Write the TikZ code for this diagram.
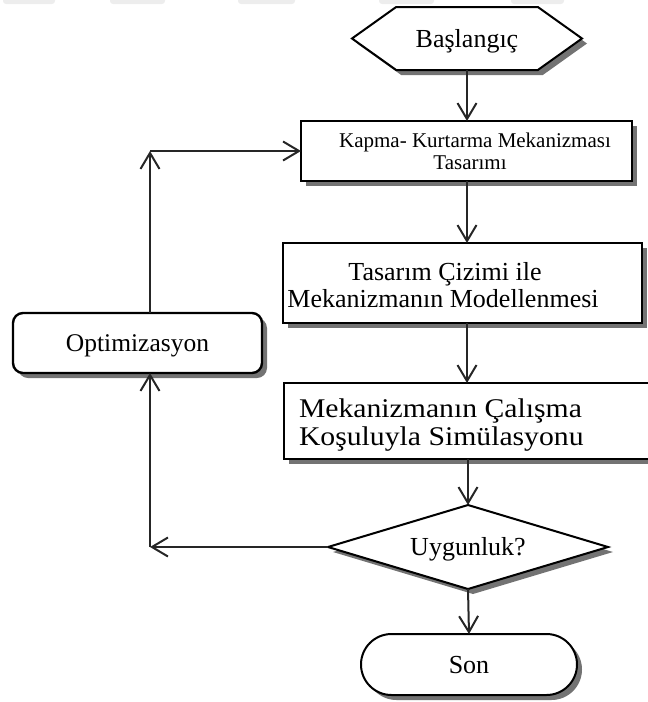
\documentclass[tikz,border=0pt]{standalone}
\usepackage{fontspec}
\usepackage{graphicx}
\setmainfont{Liberation Serif}
\usetikzlibrary{arrows.meta,shapes.geometric,shapes.misc,shapes.symbols,shadows}

\begin{document}
\begin{tikzpicture}[x=1pt,y=-1pt,
  every node/.style={inner sep=0pt,outer sep=0pt},
  boxshadow/.style={drop shadow={shadow xshift=5pt,shadow yshift=-5pt,fill=black,opacity=0.55}},
  bigtext/.style={font=\fontsize{26}{28}\selectfont},
  smalltext/.style={font=\fontsize{21}{22}\selectfont},
  simtext/.style={font=\fontsize{27}{28}\selectfont},
  oneline/.style={text height=17pt,text depth=0pt},
  procbox/.style={rectangle,draw,line width=2.4pt,fill=white,boxshadow},
  hexa/.style={signal,signal to=east and west,signal pointer angle=71,
    minimum width=230pt,minimum height=63pt,draw,line width=2pt,fill=white,
    boxshadow,bigtext,oneline},
  decision/.style={diamond,aspect=3.333,minimum width=280pt,minimum height=84pt,
    draw,line width=2pt,fill=white,boxshadow,bigtext,oneline},
  terminal/.style={rounded rectangle,minimum width=216pt,minimum height=61pt,
    draw,line width=2pt,fill=white,boxshadow,bigtext,oneline},
  optbox/.style={rectangle,rounded corners=10pt,minimum width=249pt,minimum height=60pt,
    draw,line width=2.4pt,fill=white,boxshadow,font=\fontsize{25.5}{28}\selectfont,oneline},
  flow/.style={line width=2pt,draw=black!85,
    -{Straight Barb[length=16pt,width=19pt,line width=2pt]}}
]
\useasboundingbox (0,0) rectangle (648,702);

% faint marks along the top edge
\foreach \a/\b in {3/55,110/165,238/295,379/434,511/564}
  \fill[black!7,rounded corners=3pt] (\a,-6) rectangle (\b,4);

% main column
\node[hexa] (start) at (467,38.5) {Başlangıç};

\node[procbox,minimum width=331pt,minimum height=60pt] (design) at (466.5,151) {};
\node[smalltext,anchor=base] (designA) at (475,147) {Kapma- Kurtarma Mekanizması};
\node[smalltext,anchor=base] (designB) at (470,169) {Tasarımı};

\node[procbox,minimum width=359pt,minimum height=80pt] (model) at (462.5,283) {};
\node[bigtext,anchor=base] (modelA) at (445,280) {Tasarım Çizimi ile};
\node[bigtext,anchor=base] (modelB) at (443,307) {Mekanizmanın Modellenmesi};

\node[procbox,minimum width=368pt,minimum height=76pt] (sim) at (468,421) {};
\node[simtext,anchor=base west] (simA) at (299,417) {\scalebox{1.1}[1]{Mekanizmanın Çalışma}};
\node[simtext,anchor=base west] (simB) at (299,445) {\scalebox{1.1}[1]{Koşuluyla Simülasyonu}};

\node[decision] (check) at (468,547) {Uygunluk?};
\node[terminal] (stop) at (469,664.5) {Son};

% feedback branch
\node[optbox] (opt) at (137.5,343) {Optimizasyon};
\coordinate (loopLow) at (150,547);
\coordinate (loopHigh) at (150,151);

% connectors
\draw[flow] (start.south) -- (start.south |- design.north);
\draw[flow] (design.south -| start.south) -- (model.north -| start.south);
\draw[flow] (model.south -| start.south) -- (sim.north -| start.south);
\draw[flow] (sim.south -| check.north) -- (check.north);
\draw[flow] (check.south) -- (stop.north);
\draw[flow] (check.west) -- (loopLow);
\draw[flow] (loopLow) -- (loopLow |- opt.south);
\draw[flow] (opt.north -| loopHigh) -- (loopHigh);
\draw[flow] (loopHigh) -- (design.west);
\end{tikzpicture}
\end{document}
